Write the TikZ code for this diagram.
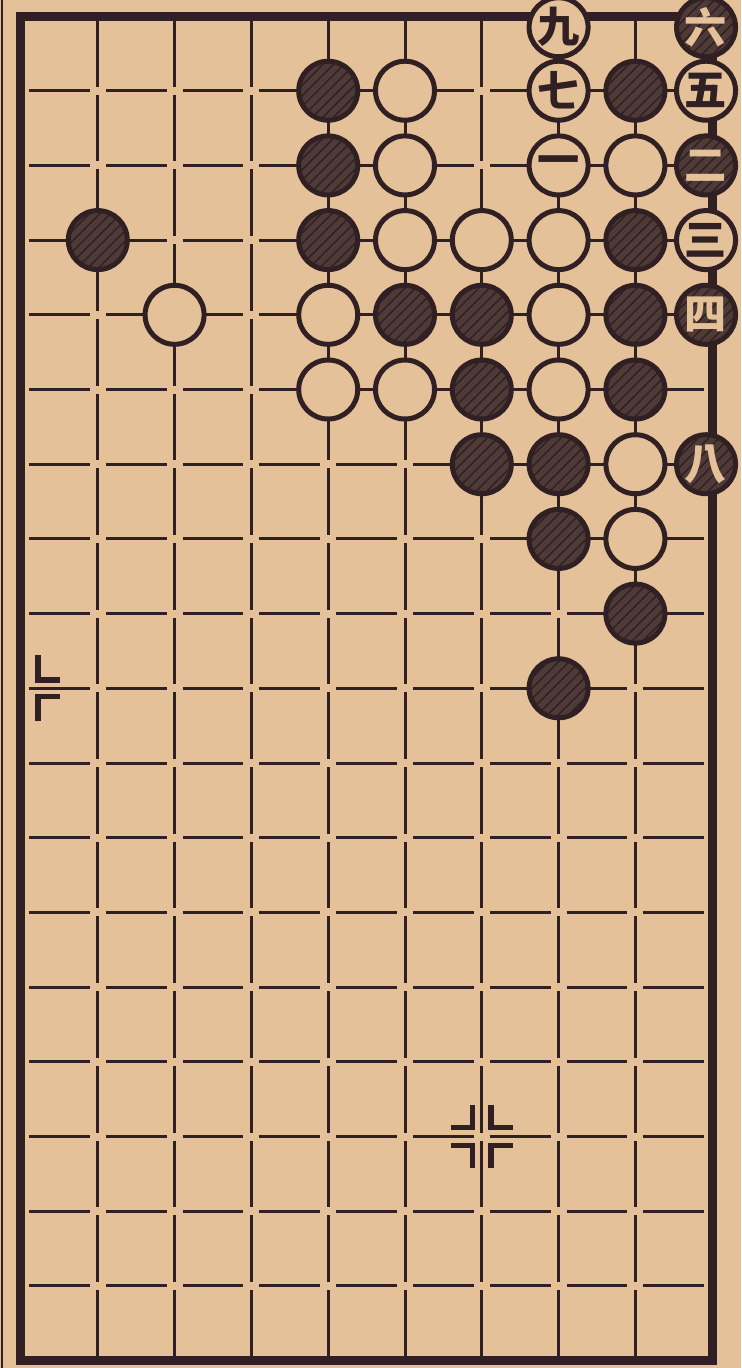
\documentclass[tikz,border=0pt]{standalone}
\usepackage{fontspec}
\newfontfamily\cjk{Noto Sans CJK TC}
\usetikzlibrary{patterns}
\definecolor{paper}{RGB}{228,193,152}
\definecolor{ink}{RGB}{48,32,36}
\definecolor{stoneink}{RGB}{78,58,54}

\begin{document}
\begin{tikzpicture}[
    x=7.68mm, y=-7.47mm,
    grid/.style={draw=ink, line width=0.3mm},
    frame/.style={draw=ink, line width=0.9mm},
    stone/.style={
        circle,
        draw=ink,
        minimum size=5.9mm,
        inner sep=0pt,
        line width=0.5mm,
        font=\cjk\bfseries\fontsize{12}{12}\selectfont
    },
    blackstone/.style={stone, fill=stoneink, text=paper,
        postaction={pattern=north east lines, pattern color=ink}},
    whitestone/.style={stone, fill=paper, text=ink},
    starmark/.style={draw=ink, line width=0.55mm}
]

% paper and page edge
\fill[paper] (-0.2734,-0.2142) rectangle (9.375,18.099);
\useasboundingbox (-0.2734,-0.2142) rectangle (9.375,18.099);
\draw[ink, line width=0.25mm] (-0.25,-0.2142) -- (-0.25,18.099);

% board lines, broken at the crossings
\foreach \c in {1,...,8}
    \foreach \r in {0,...,17}
        \draw[grid, shorten <=0.4mm, shorten >=0.4mm] (\c,\r) -- (\c,\r+1);
\foreach \r in {1,...,17}
    \foreach \c in {0,...,8}
        \draw[grid, shorten <=0.8mm, shorten >=0.8mm] (\c,\r) -- (\c+1,\r);
\draw[frame] (0,0) rectangle (9,18);

% star points
\foreach \sx in {-1,1}
    \foreach \sy in {-1,1}
        \draw[starmark, shift={(6,15)}] (\sx*0.12,\sy*0.42) -- (\sx*0.12,\sy*0.12) -- (\sx*0.4,\sy*0.12);
\foreach \sy in {-1,1}
    \draw[starmark, shift={(0,9)}] (0.22,\sy*0.44) -- (0.22,\sy*0.11) -- (0.51,\sy*0.11);

% stones
\foreach \c/\r in {4/1,8/1,4/2,1/3,4/3,8/3,5/4,6/4,8/4,6/5,8/5,6/6,7/6,7/7,8/8,7/9}
    \node[blackstone] (b\c-\r) at (\c,\r) {};
\foreach \c/\r in {5/1,5/2,8/2,5/3,6/3,7/3,2/4,4/4,7/4,4/5,5/5,7/5,8/6,8/7}
    \node[whitestone] (w\c-\r) at (\c,\r) {};

% numbered moves
\node[whitestone] (m1) at (7,2) {一};
\node[blackstone] (m2) at (8.92,2) {二};
\node[whitestone] (m3) at (8.92,3) {三};
\node[blackstone] (m4) at (8.92,4) {四};
\node[whitestone] (m5) at (8.92,1) {五};
\node[blackstone] (m6) at (8.92,0.15) {六};
\node[whitestone] (m7) at (7,1) {七};
\node[blackstone] (m8) at (8.92,6) {八};
\node[whitestone] (m9) at (7,0.15) {九};

\end{tikzpicture}
\end{document}
